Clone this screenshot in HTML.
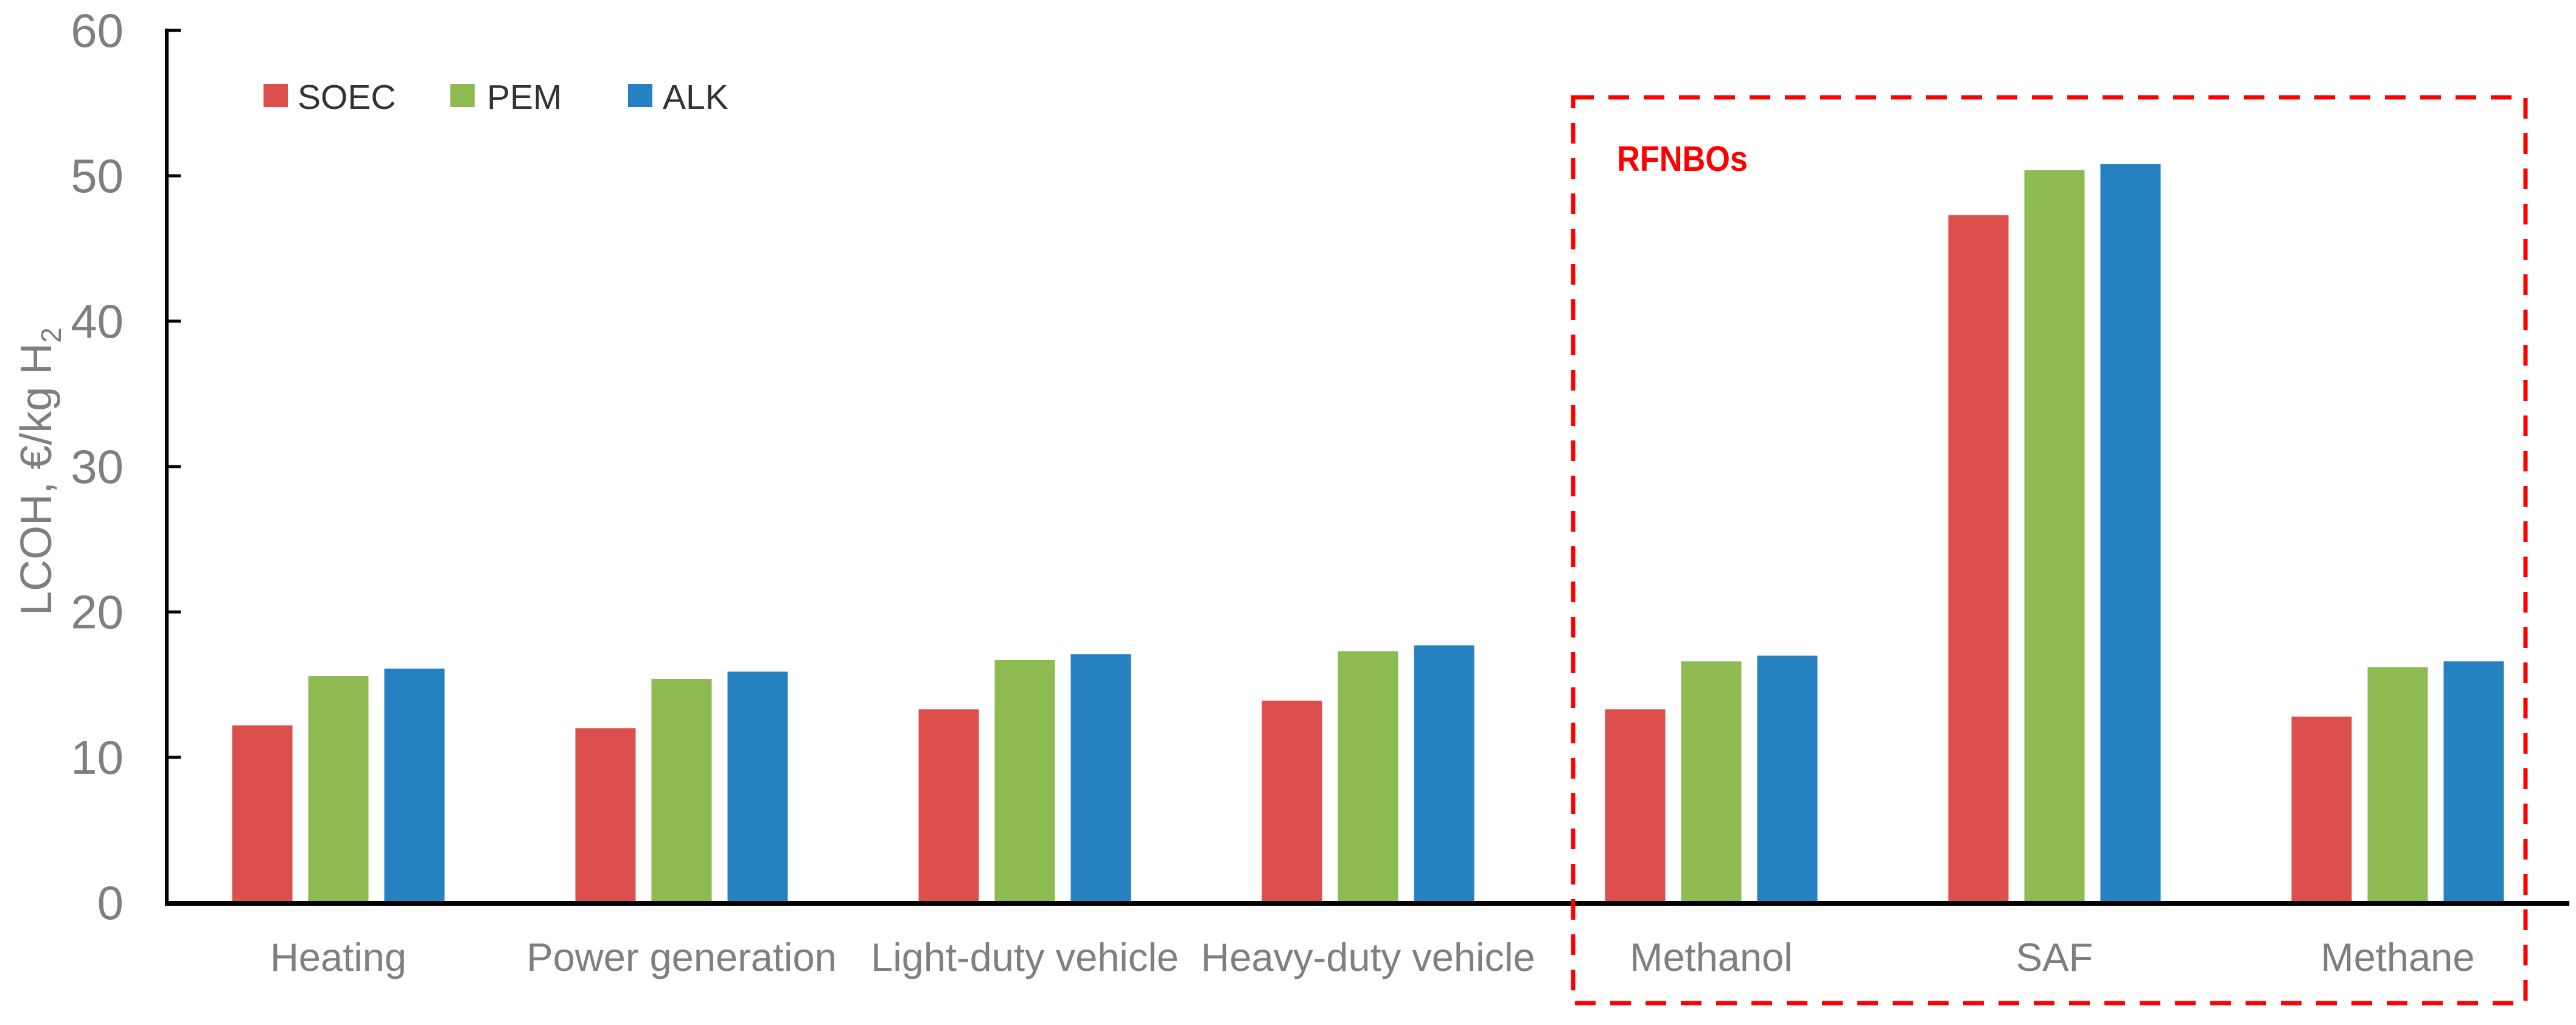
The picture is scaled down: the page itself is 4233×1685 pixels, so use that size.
<!DOCTYPE html>
<html><head><meta charset="utf-8"><style>
html,body{margin:0;padding:0;background:#fff;}
svg{display:block;}
text{font-family:"Liberation Sans",sans-serif;}
</style></head><body>
<svg id="chart" width="4233" height="1685" viewBox="0 0 4233 1685" xmlns="http://www.w3.org/2000/svg">
<g id="bars"></g>
<g id="axes"></g>
<text transform="translate(84,775) rotate(-90)" text-anchor="middle" font-size="72" fill="#7f7f7f">LCOH, €/kg H<tspan font-size="46" dy="16">2</tspan></text>
<g>
<rect x="433" y="138" width="40" height="38" fill="#dd4f4d"/>
<text x="489" y="179" font-size="57" fill="#333">SOEC</text>
<rect x="740" y="138" width="40" height="38" fill="#8dbb52"/>
<text x="800" y="179" font-size="57" fill="#333">PEM</text>
<rect x="1032" y="138" width="40" height="38" fill="#2581c0"/>
<text x="1089" y="179" font-size="57" fill="#333">ALK</text>
</g>
<rect x="2585" y="160" width="1565" height="1489" fill="none" stroke="#ff0000" stroke-width="7" stroke-dasharray="34,24"/>
<text x="2657" y="281" font-size="58" font-weight="bold" fill="#ff0000" textLength="215" lengthAdjust="spacingAndGlyphs">RFNBOs</text>
</svg>
<script>
const categories = ["Heating","Power generation","Light-duty vehicle","Heavy-duty vehicle","Methanol","SAF","Methane"];
const soec = [12.2,12.0,13.3,13.9,13.3,47.3,12.8];
const pem = [15.6,15.4,16.7,17.3,16.6,50.4,16.2];
const alk = [16.1,15.9,17.1,17.7,17.0,50.8,16.6];
const yTicks = [0,10,20,30,40,50,60];

const NS = "http://www.w3.org/2000/svg";
const X0 = 274, X1 = 4222, Y0 = 1484, Y60 = 50;
const band = (X1 - X0) / categories.length;
function yScale(v){ return Y0 - (v / 60) * (Y0 - Y60); }
function xCenter(i){ return X0 + band * (i + 0.5); }
function mk(tag, attrs, parent){
  const e = document.createElementNS(NS, tag);
  for (const k in attrs) e.setAttribute(k, attrs[k]);
  parent.appendChild(e);
  return e;
}
const barsG = document.getElementById('bars');
const axesG = document.getElementById('axes');
const series = [{name:'soec', vals:soec, color:'#dd4f4d'},{name:'pem', vals:pem, color:'#8dbb52'},{name:'alk', vals:alk, color:'#2581c0'}];
const bw = 99, gap = 26;
series.forEach((s, si) => {
  s.vals.forEach((v, i) => {
    const cx = xCenter(i) + (si - 1) * (bw + gap);
    const r = mk('rect', {x: cx - bw/2, y: yScale(v), width: bw, height: Y0 - yScale(v), fill: s.color}, barsG);
    
    
  });
});
const ya = mk('line', {x1: X0, y1: Y60 - 3, x2: X0, y2: Y0 + 4, stroke: '#000', 'stroke-width': 6}, axesG);


yTicks.forEach(t => {
  const y = yScale(t);
  const tk = mk('line', {x1: X0, y1: y, x2: X0 + 23, y2: y, stroke: '#000', 'stroke-width': 5}, axesG);
  
  
  const lb = mk('text', {x: 203, y: y + 27, 'text-anchor': 'end', 'font-size': 78, fill: '#7f7f7f'}, axesG);
  lb.textContent = t;
  
  
});
const xa = mk('line', {x1: X0 - 3, y1: Y0 + 1, x2: X1, y2: Y0 + 1, stroke: '#000', 'stroke-width': 8}, axesG);


categories.forEach((c, i) => {
  const lb = mk('text', {x: xCenter(i), y: 1596, 'text-anchor': 'middle', 'font-size': 65, fill: '#7f7f7f'}, axesG);
  lb.textContent = c;
  
  
});
</script>
</body></html>
